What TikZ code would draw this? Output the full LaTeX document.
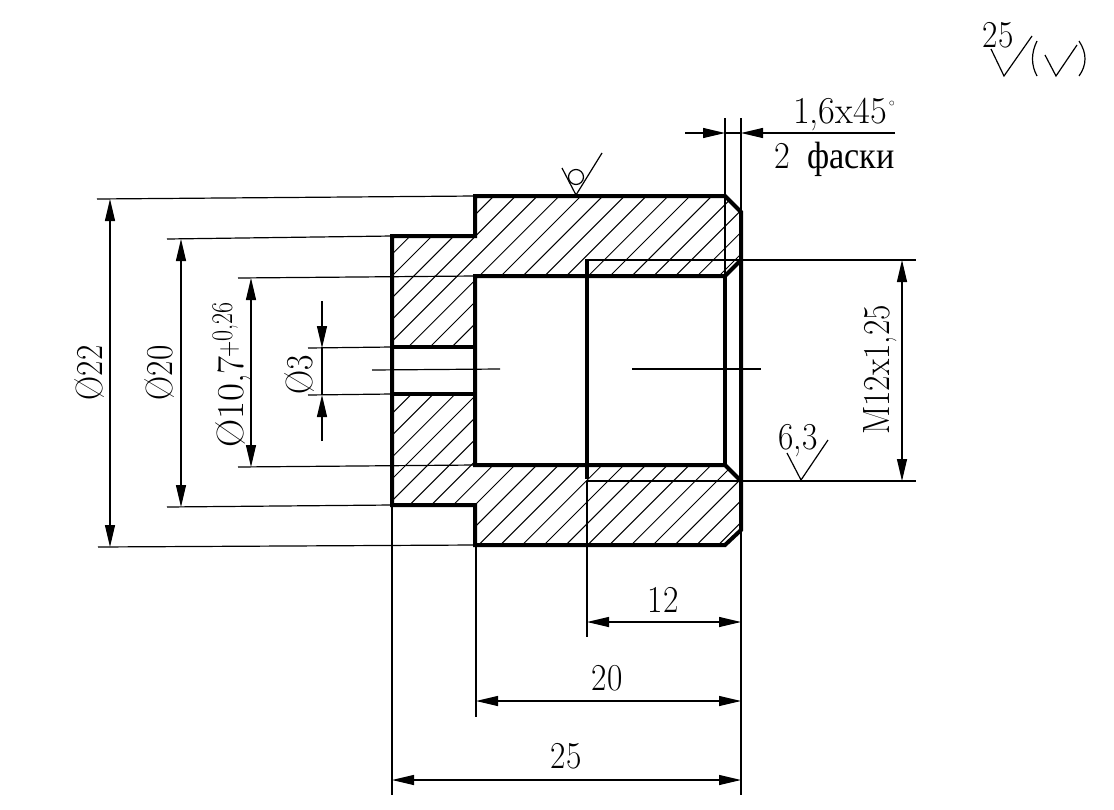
\documentclass[tikz,border=0pt]{standalone}
\usepackage{graphicx}
\usepackage{fontspec}
\newfontfamily\rufont{Liberation Serif}
\usetikzlibrary{arrows.meta}

\newcommand{\cond}[1]{\scalebox{.88}[1]{#1}}

\tikzset{
    contour/.style={line width=4pt, line join=miter},
    thin line/.style={line width=1.2pt},
    hatch/.style={line width=1pt},
    dim/.style={line width=1.2pt, {Triangle[length=22pt,width=10pt]}-{Triangle[length=22pt,width=10pt]}},
    lead/.style={line width=1.2pt, -{Triangle[length=22pt,width=10pt]}},
    label/.style={inner sep=0pt, anchor=base, font=\fontsize{38}{40}\selectfont},
    sign/.style={line width=1.2pt},
}

\begin{document}
\begin{tikzpicture}[x=1pt,y=-1pt]
        \useasboundingbox (0,0) rectangle (1114,809);

        % hatching of the section
        \begin{scope}
            \clip (475,196) -- (725,196) -- (741,212) -- (741,260) -- (725,276) -- (475,276)
                -- (475,347) -- (392,347) -- (392,236) -- (475,236) -- cycle;
            \foreach \k in {-8,...,11}
                \draw[hatch] ({677+\k*21.8},100) -- ({177+\k*21.8},600);
        \end{scope}
        \begin{scope}
            \clip (392,394) -- (475,394) -- (475,465) -- (725,465) -- (741,481) -- (741,530)
                -- (725,545) -- (475,545) -- (475,505) -- (392,505) -- cycle;
            \foreach \k in {-11,...,12}
                \draw[hatch] ({923.6+\k*21.8},100) -- ({423.6+\k*21.8},600);
        \end{scope}

        % outline
        \draw[contour] (475,196) -- (725,196) -- (741,212) -- (741,530) -- (725,545)
            -- (475,545) -- (475,505) -- (392,505) -- (392,236) -- (475,236) -- cycle;
        \draw[contour] (741,260) -- (725,276) -- (475,276) -- (475,465) -- (725,465) -- (741,481);
        \draw[contour] (725,276) -- (725,465);
        \draw[contour] (587,259) -- (587,479);
        \draw[contour] (392,347) -- (475,347);
        \draw[contour] (392,394) -- (475,394);

        % thread and centre lines
        \draw[thin line] (587,260) -- (741,260);
        \draw[thin line] (587,481) -- (741,481);
        \draw[thin line] (372,370) -- (500,369);
        \draw[thin line] (632,369) -- (761,369);

        % extension lines
        \draw[thin line] (97,199) -- (475,196);
        \draw[thin line] (98,547) -- (475,545);
        \draw[thin line] (167,239) -- (392,236);
        \draw[thin line] (167,507) -- (392,505);
        \draw[thin line] (238,278) -- (475,276);
        \draw[thin line] (238,467) -- (475,465);
        \draw[thin line] (308,348) -- (392,347);
        \draw[thin line] (308,395) -- (392,394);
        \draw[thin line] (741,260) -- (916,260);
        \draw[thin line] (741,481) -- (916,481);
        \draw[thin line] (725,118) -- (725,276);
        \draw[thin line] (741,118) -- (741,212);
        \draw[thin line] (392,505) -- (392,795);
        \draw[thin line] (476,545) -- (476,717);
        \draw[thin line] (587,481) -- (587,637);
        \draw[thin line] (741,530) -- (741,795);

        % dimension lines
        \draw[dim] (110,199) -- (110,547);
        \draw[dim] (181,239) -- (181,507);
        \draw[dim] (251,278) -- (251,467);
        \draw[dim] (902,260) -- (902,481);
        \draw[dim] (587,622) -- (741,622);
        \draw[dim] (476,701) -- (741,701);
        \draw[dim] (392,780) -- (741,780);
        \draw[lead] (322,301) -- (322,348);
        \draw[lead] (322,441) -- (322,395);
        \draw[thin line] (322,348) -- (322,395);
        \draw[lead] (685,133) -- (725,133);
        \draw[lead] (895,133) -- (741,133);
        \draw[thin line] (725,133) -- (741,133);

        % labels
        \node[label, rotate=90] (d22) at (102,373) {\cond{Ø22}};
        \node[label, rotate=90] (d20) at (172,373) {\cond{Ø20}};
        \node[label, rotate=90] (d107) at (243,402) {\scalebox{1.03}[1]{Ø10,7}};
        \node[label, rotate=90, anchor=base west] (tol) at (237,358) {\fontsize{30}{32}\selectfont\scalebox{.75}[1]{+}\raisebox{5pt}{\scalebox{.8}[1]{0,26}}};
        \node[label, rotate=90] (d3) at (312,375) {\cond{Ø3}};
        \node[label, rotate=90] (thread) at (889,370) {\cond{M12x1,25}};
        \node[label] (len12) at (663,612) {\cond{12}};
        \node[label] (len20) at (607,690) {\cond{20}};
        \node[label] (len25) at (566,768) {\cond{25}};
        \node[label, anchor=base east] (chamfer) at (895,123) {\scalebox{.96}[1]{1,6x45}\hspace{2pt}\raisebox{17pt}{\fontsize{13}{13}\selectfont$\circ$}};
        \node[label, anchor=base east] (count) at (895,168) {\scalebox{.9}[1]{2\hspace{8pt} {\rufont фаски}}};
        \node[label] (rough63) at (798,449) {\cond{6,3}};
        \node[label] (rough25) at (998,47) {\cond{25}};

        % roughness signs
        \draw[sign] (562,168) -- (576,195) -- (602,153);
        \node[sign, draw, circle, minimum size=15pt, inner sep=0pt] (nomat) at (576,177) {};
        \draw[sign] (787,453) -- (801,480) -- (828,440);
        \draw[sign] (991,49) -- (1004,76) -- (1032,36);
        \draw[sign] (1045,55) -- (1056,76) -- (1077,45);
        \draw[sign] (1037,41) .. controls (1031,53) and (1031,65) .. (1037,76);
        \draw[sign] (1079,41) .. controls (1087,53) and (1087,65) .. (1079,76);

    \end{tikzpicture}
\end{document}
